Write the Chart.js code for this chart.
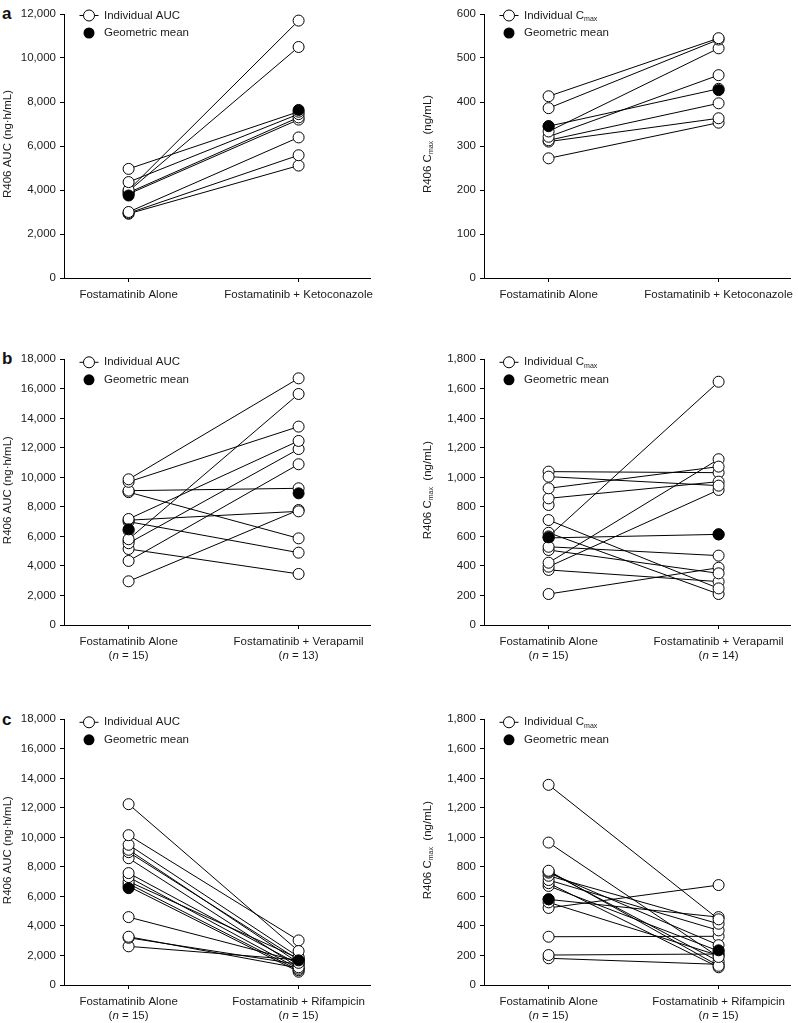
<!DOCTYPE html>
<html><head><meta charset="utf-8">
<script src="https://cdn.jsdelivr.net/npm/chart.js@4.4.0/dist/chart.umd.min.js"></script>
<style>
html,body{margin:0;padding:0;background:#fff;}
body{width:798px;height:1023px;position:relative;overflow:hidden;font-family:"Liberation Sans",Arial,sans-serif;}
.box{position:absolute;}
.lbl{position:absolute;left:2px;font-weight:bold;font-size:17px;line-height:17px;color:#111;}
</style></head><body>
<div class="lbl" style="top:5px">a</div>
<div class="lbl" style="top:349.6px">b</div>
<div class="lbl" style="top:711.3px">c</div>
<script>
// ---------- data ----------
const catKeto = ["Fostamatinib Alone", "Fostamatinib + Ketoconazole"];
const catVera = ["Fostamatinib Alone", "Fostamatinib + Verapamil"];
const catRif  = ["Fostamatinib Alone", "Fostamatinib + Rifampicin"];

const ketoAucAlone = [4960, 4360, 4000, 3950, 3880, 3820, 3000, 2950, 2920];
const ketoAucCombo = [7560, 7450, 11700, 10500, 7300, 7200, 6390, 5580, 5110];
const ketoAucMean  = [3750, 7640];

const ketoCmaxAlone = [413, 386, 333, 321, 345, 313, 310, 272];
const ketoCmaxCombo = [545, 542, 522, 461, 430, 397, 363, 353];
const ketoCmaxMean  = [345, 427];

const veraAucAlone = [9870, 9700, 9100, 9000, 7180, 7100, 7000, 5810, 5540, 5150, 4340, 2960, 5700, 9050, 6400];
const veraAucCombo = [16710, 13440, 9260, 5870, 12470, 7700, 4900, 15650, 11920, 3460, 10890, 7790, null, null, null];
const veraAucMean  = [6480, 8920];
const veraAucN     = ["15", "13"];

const veraCmaxAlone = [1005, 926, 858, 1039, 600, 711, 625, 530, 508, 422, 395, 373, 210, 590, 813];
const veraCmaxCombo = [944, 1073, 971, 1032, 1648, 248, 210, 470, 350, 1123, 915, 294, 388, 614, null];
const veraCmaxMean  = [594, 614];
const veraCmaxN     = ["15", "14"];

const rifAucAlone = [12250, 10150, 9500, 9160, 9000, 8590, 7580, 7310, 7010, 6860, 6680, 4600, 3270, 3200, 2620];
const rifAucCombo = [2300, 3020, 1900, 1500, 1700, 1200, 1400, 1100, 1800, 1000, 900, 1600, 1150, 1400, 1700];
const rifAucMean  = [6560, 1670];
const rifAucN     = ["15", "15"];

const rifCmaxAlone = [1356, 965, 774, 768, 761, 740, 711, 690, 671, 580, 560, 522, 327, 203, 181];
const rifCmaxCombo = [445, 190, 130, 160, 270, 415, 370, 120, 230, 460, 200, 677, 330, 210, 140];
const rifCmaxMean  = [581, 235];
const rifCmaxN     = ["15", "15"];

// ---------- rendering ----------
const FONT = '"Liberation Sans", Arial, sans-serif';
const TXT = '#1a1a1a';
const PR = 5.5;
Chart.defaults.font.family = FONT;
Chart.defaults.font.size = 11.5;
Chart.defaults.color = TXT;

function subjectSets(alone, combo) {
  return alone.map((a, i) => ({
    data: combo[i] == null ? [{x:0, y:a}] : [{x:0, y:a}, {x:1, y:combo[i]}],
    borderColor: '#000', borderWidth: 1,
    pointRadius: PR, pointBackgroundColor: '#fff', pointBorderColor: '#000', pointBorderWidth: 1,
    order: 1, clip: false
  }));
}

function drawTextSub(ctx, parts, x, y, align) {
  const fnt = p => (p.italic ? 'italic ' : '') + (p.sub ? '7px ' : '11.5px ') + FONT;
  let total = 0;
  parts.forEach(p => { ctx.font = fnt(p); total += ctx.measureText(p.t).width; });
  let cx = align === 'center' ? x - total / 2 : x;
  ctx.textAlign = 'left';
  ctx.textBaseline = 'middle';
  parts.forEach(p => {
    ctx.font = fnt(p);
    ctx.fillText(p.t, cx, y + (p.sub ? 3.5 : 0));
    cx += ctx.measureText(p.t).width;
  });
}

function makeChart(cfg) {
  const wrap = document.createElement('div');
  wrap.className = 'box';
  wrap.style.left = cfg.left + 'px'; wrap.style.top = cfg.top + 'px';
  wrap.style.width = cfg.w + 'px'; wrap.style.height = cfg.h + 'px';
  const cv = document.createElement('canvas');
  cv.width = cfg.w; cv.height = cfg.h;
  cv.style.width = cfg.w + 'px'; cv.style.height = cfg.h + 'px';
  wrap.appendChild(cv); document.body.appendChild(wrap);

  const datasets = subjectSets(cfg.alone, cfg.combo);
  datasets.unshift({
    data: [{x:0, y:cfg.mean[0]}, {x:1, y:cfg.mean[1]}],
    showLine: false, borderColor: '#000', pointRadius: PR,
    pointBackgroundColor: '#000', pointBorderColor: '#000', pointBorderWidth: 1,
    order: 0, clip: false
  });

  const extra = {
    id: 'extra',
    afterDraw(chart) {
      const ctx = chart.ctx, ca = chart.chartArea;
      ctx.save();
      ctx.fillStyle = TXT;
      ctx.save();
      ctx.translate(ca.left - 56, (ca.top + ca.bottom) / 2 - 2);
      ctx.rotate(-Math.PI / 2);
      drawTextSub(ctx, cfg.ytitle, 0, 0, 'center');
      ctx.restore();
      const x0 = ca.left + 25, y1 = ca.top + cfg.legDy[0], y2 = ca.top + cfg.legDy[1];
      ctx.strokeStyle = '#000'; ctx.lineWidth = 1;
      ctx.beginPath(); ctx.moveTo(x0 - 9.5, y1); ctx.lineTo(x0 + 9.5, y1); ctx.stroke();
      ctx.beginPath(); ctx.arc(x0, y1, PR, 0, 2 * Math.PI); ctx.fillStyle = '#fff'; ctx.fill(); ctx.stroke();
      ctx.beginPath(); ctx.arc(x0, y2, PR, 0, 2 * Math.PI); ctx.fillStyle = '#000'; ctx.fill();
      ctx.fillStyle = TXT;
      drawTextSub(ctx, cfg.legText, x0 + 15, y1, 'left');
      drawTextSub(ctx, [{t:'Geometric mean'}], x0 + 15, y2, 'left');
      if (cfg.n) {
        const sx = chart.scales.x;
        cfg.n.forEach((nv, i) => {
          drawTextSub(ctx, [{t:'('}, {t:'n', italic:true}, {t:' = ' + nv + ')'}],
            sx.getPixelForValue(i), ca.bottom + 30.5, 'center');
        });
      }
      ctx.restore();
    }
  };

  new Chart(cv, {
    type: 'line',
    data: { datasets },
    options: {
      responsive: false, animation: false, events: [],
      layout: { padding: { top: cfg.padTop, right: cfg.padRight, left: 0, bottom: 0 } },
      plugins: { legend: { display: false }, tooltip: { enabled: false } },
      scales: {
        x: {
          type: 'linear', min: -0.38, max: 1.42,
          border: { display: true, color: '#000', width: 1 },
          grid: { display: true, drawOnChartArea: false, drawTicks: true, tickLength: 4, color: '#000', lineWidth: 1 },
          afterBuildTicks(s) { s.ticks = [{value: 0}, {value: 1}]; },
          ticks: { autoSkip: false, maxRotation: 0, minRotation: 0, padding: 6, color: TXT,
                   callback: (v) => cfg.cats[v] },
          afterFit(s) { s.height = cfg.h - cfg.chartBottom; s.paddingLeft = 0; s.paddingRight = 0; }
        },
        y: {
          min: 0, max: cfg.ymax,
          border: { display: true, color: '#000', width: 1 },
          grid: { display: true, drawOnChartArea: false, drawTicks: true, tickLength: 4, color: '#000', lineWidth: 1 },
          ticks: { stepSize: cfg.step, padding: 4, color: TXT, callback: v => v.toLocaleString('en-US') },
          afterFit(s) { s.width = cfg.axisW; s.paddingTop = 0; s.paddingBottom = 0; }
        }
      }
    },
    plugins: [extra]
  });
}

const aucTitle = [{t:'R406 AUC (ng\u00b7h/mL)'}];
const cmaxTitle = [{t:'R406 C'}, {t:'max', sub:true}, {t:'  (ng/mL)'}];
const aucLeg = [{t:'Individual AUC'}];
const cmaxLeg = [{t:'Individual C'}, {t:'max', sub:true}];

const L = {left:0, w:400, axisW:64, padRight:30};
const R = {left:400, w:398, axisW:84, padRight:8};

makeChart(Object.assign({}, L, {top:0, h:320, padTop:14, chartBottom:278, ymax:12000, step:2000,
  alone:ketoAucAlone, combo:ketoAucCombo, mean:ketoAucMean, cats:catKeto, ytitle:aucTitle, legText:aucLeg, legDy:[1.5,19]}));
makeChart(Object.assign({}, R, {top:0, h:320, padTop:14, chartBottom:278, ymax:600, step:100,
  alone:ketoCmaxAlone, combo:ketoCmaxCombo, mean:ketoCmaxMean, cats:catKeto, ytitle:cmaxTitle, legText:cmaxLeg, legDy:[1.5,19]}));

makeChart(Object.assign({}, L, {top:345, h:320, padTop:14.3, chartBottom:280, ymax:18000, step:2000,
  alone:veraAucAlone, combo:veraAucCombo, mean:veraAucMean, cats:catVera, n:veraAucN, ytitle:aucTitle, legText:aucLeg, legDy:[3,20.5]}));
makeChart(Object.assign({}, R, {top:345, h:320, padTop:14.3, chartBottom:280, ymax:1800, step:200,
  alone:veraCmaxAlone, combo:veraCmaxCombo, mean:veraCmaxMean, cats:catVera, n:veraCmaxN, ytitle:cmaxTitle, legText:cmaxLeg, legDy:[3,20.5]}));

makeChart(Object.assign({}, L, {top:705, h:318, padTop:14.3, chartBottom:280, ymax:18000, step:2000,
  alone:rifAucAlone, combo:rifAucCombo, mean:rifAucMean, cats:catRif, n:rifAucN, ytitle:aucTitle, legText:aucLeg, legDy:[3,20.5]}));
makeChart(Object.assign({}, R, {top:705, h:318, padTop:14.3, chartBottom:280, ymax:1800, step:200,
  alone:rifCmaxAlone, combo:rifCmaxCombo, mean:rifCmaxMean, cats:catRif, n:rifCmaxN, ytitle:cmaxTitle, legText:cmaxLeg, legDy:[3,20.5]}));
</script>
</body></html>
